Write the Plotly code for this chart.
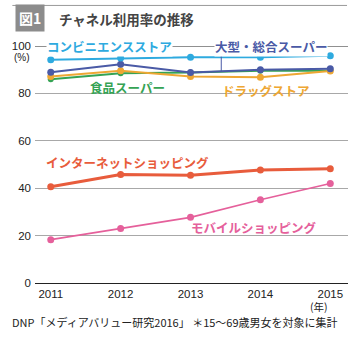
import plotly.graph_objects as go

years = [2011, 2012, 2013, 2014, 2015]
conv = [94.2, 94.9, 95.3, 95.3, 95.9]
gms = [88.9, 92.3, 88.8, 90.0, 90.4]
food = [86.0, 88.5, 88.8, 89.6, 89.6]
drug = [87.1, 89.6, 87.1, 86.8, 89.4]
internet = [40.6, 45.8, 45.5, 47.7, 48.2]
mobile = [18.3, 23.0, 27.7, 35.1, 42.0]

JP = "Noto Sans CJK JP"
NUM = "Liberation Sans, Arial, sans-serif"

PW, PH = 318.0, 236.7  # plot area px

def px(xp):
    return (xp - 30) / PW

def py(yp):
    return (282.7 - yp) / PH

series = [
    (food, "#35a354", 2.0, 6),
    (drug, "#eea733", 2.0, 7),
    (gms, "#4a5aa6", 2.0, 7),
    (conv, "#2eaadf", 2.0, 7),
    (mobile, "#e5609b", 1.6, 7),
    (internet, "#e85c3c", 3.0, 7),
]

fig = go.Figure()
for vals, col, w, ms in series:
    fig.add_trace(go.Scatter(x=years, y=vals, mode="lines+markers",
                             line=dict(color=col, width=w),
                             marker=dict(color=col, size=ms),
                             cliponaxis=False, showlegend=False, hoverinfo="skip"))

shapes = [
    dict(type="line", xref="paper", yref="y", x0=0, x1=1, y0=100, y1=100,
         line=dict(color="#222", width=1), layer="below"),
    dict(type="line", xref="x", yref="y", x0=2013.44, x1=2013.44, y0=97.6, y1=89.3,
         line=dict(color="#4a5aa6", width=1)),
    dict(type="line", xref="paper", yref="paper", x0=px(7), x1=px(347),
         y0=py(5.5), y1=py(5.5), line=dict(color="#9a9a9a", width=1)),
]

def lab(text, xp, yp, color, size=12.5, bg=None):
    d = dict(text=f"<b>{text}</b>", x=px(xp), y=py(yp), xref="paper", yref="paper",
             showarrow=False, font=dict(family=JP, size=size, color=color),
             xanchor="center", yanchor="middle")
    if bg:
        d.update(bgcolor=bg, borderpad=0)
    return d

ann = [
    lab("コンビニエンスストア", 106, 46, "#2eaadf", bg="white"),
    lab("大型・総合スーパー", 270, 46, "#4a5aa6", bg="white"),
    lab("食品スーパー", 124, 87, "#35a354"),
    lab("ドラッグストア", 265, 90, "#eea733"),
    lab("インターネットショッピング", 124, 162, "#e85c3c"),
    lab("モバイルショッピング", 253, 227, "#e5609b"),
    dict(text="(%)", x=px(27), y=py(57), xref="paper", yref="paper", showarrow=False,
         font=dict(family=NUM, size=10, color="#222"), xanchor="right", yanchor="middle"),
    dict(text="(年)", x=px(330), y=py(306), xref="paper", yref="paper", showarrow=False,
         font=dict(family=JP, size=10.5, color="#222"), yanchor="middle"),
    dict(text="<b>図1</b>", x=px(25), y=py(18.5), xref="paper", yref="paper",
         showarrow=False, font=dict(family=JP, size=14, color="white"),
         bgcolor="#8c8c8c", borderpad=3, xanchor="center", yanchor="middle"),
    dict(text="<b>チャネル利用率の推移</b>", x=px(52), y=py(19), xref="paper",
         yref="paper", showarrow=False, xanchor="left", yanchor="middle",
         font=dict(family=JP, size=13.5, color="#444")),
    dict(text="DNP「メディアバリュー研究2016」 ＊15～69歳男女を対象に集計",
         x=px(5), y=py(322), xref="paper", yref="paper", showarrow=False,
         xanchor="left", yanchor="middle", font=dict(family=JP, size=11, color="#222")),
]

fig.update_layout(
    width=361, height=341, margin=dict(l=30, r=13, t=46, b=58),
    plot_bgcolor="white", paper_bgcolor="white",
    shapes=shapes, annotations=ann,
    xaxis=dict(range=[2011 - 16 / 71, 2015 + 18 / 71], tickvals=years,
               showgrid=False, zeroline=False, showline=False, ticks="",
               tickfont=dict(family=NUM, size=11.5, color="#222"), ticklabelstandoff=2),
    yaxis=dict(range=[0, 100], tickvals=[0, 20, 40, 60, 80, 100],
               showgrid=True, gridcolor="#a8a8a8", gridwidth=1,
               zeroline=True, zerolinecolor="#222", zerolinewidth=1,
               showline=False, ticks="",
               tickfont=dict(family=NUM, size=11.5, color="#222"), ticklabelstandoff=3),
)

fig.write_html("out.html")
